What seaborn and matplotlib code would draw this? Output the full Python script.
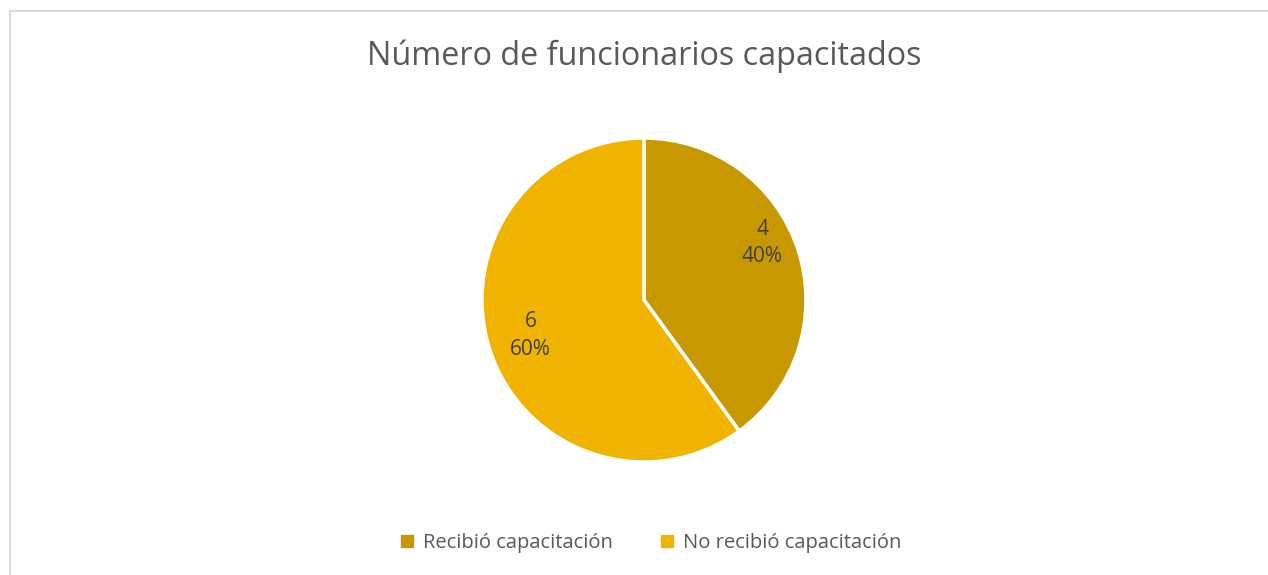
import seaborn as sns
from matplotlib import pyplot as plt
from matplotlib.patches import Rectangle
from matplotlib.lines import Line2D

categories = ["Recibió capacitación", "No recibió capacitación"]
values = [4, 6]
colors = ["#C89800", "#F0B400"]
title = "Número de funcionarios capacitados"

sns.set_style("white")
plt.rcParams["font.family"] = ["Open Sans", "DejaVu Sans"]

fig = plt.figure(figsize=(12.68, 5.75), dpi=100)
W, H = 1268, 575

# light grey chart frame
fig.patches.append(Rectangle((9.5 / W, -0.01), 1.02, 1 - 10.5 / H + 0.01,
                             transform=fig.transFigure, fill=False,
                             edgecolor="#D9D9D9", linewidth=1.5))

cx, cy, r = 644, 300, 162
ax = fig.add_axes([(cx - r) / W, (H - cy - r) / H, 2 * r / W, 2 * r / H])

total = sum(values)
def fmt(pct):
    n = round(pct * total / 100)
    return f"{n}\n{pct:.0f}%"

wedges, texts, autotexts = ax.pie(values, colors=colors, startangle=90, counterclock=False,
                                  autopct=fmt, pctdistance=0.78,
                                  wedgeprops=dict(edgecolor="white", linewidth=2.5),
                                  textprops=dict(color="#404040", fontsize=15, linespacing=1.4))
# Excel "best fit" label spots
autotexts[0].set_position((0.73, 0.35))
autotexts[1].set_position((-0.70, -0.22))
ax.set_xlim(-1, 1)
ax.set_ylim(-1, 1)
ax.set_aspect("equal")
ax.axis("off")

fig.text(644 / W, 1 - 56 / H, title, ha="center", va="center", fontsize=23.3, color="#595959")

handles = [Line2D([], [], marker="s", linestyle="", markersize=8, color=c) for c in colors]
fig.legend(handles, categories, loc="center", bbox_to_anchor=(649 / W, 1 - 543 / H),
           ncol=2, frameon=False, fontsize=14.5, labelcolor="#595959",
           handletextpad=0.3, columnspacing=2.2, handlelength=1.0)

fig.savefig("out.png", dpi=100)
